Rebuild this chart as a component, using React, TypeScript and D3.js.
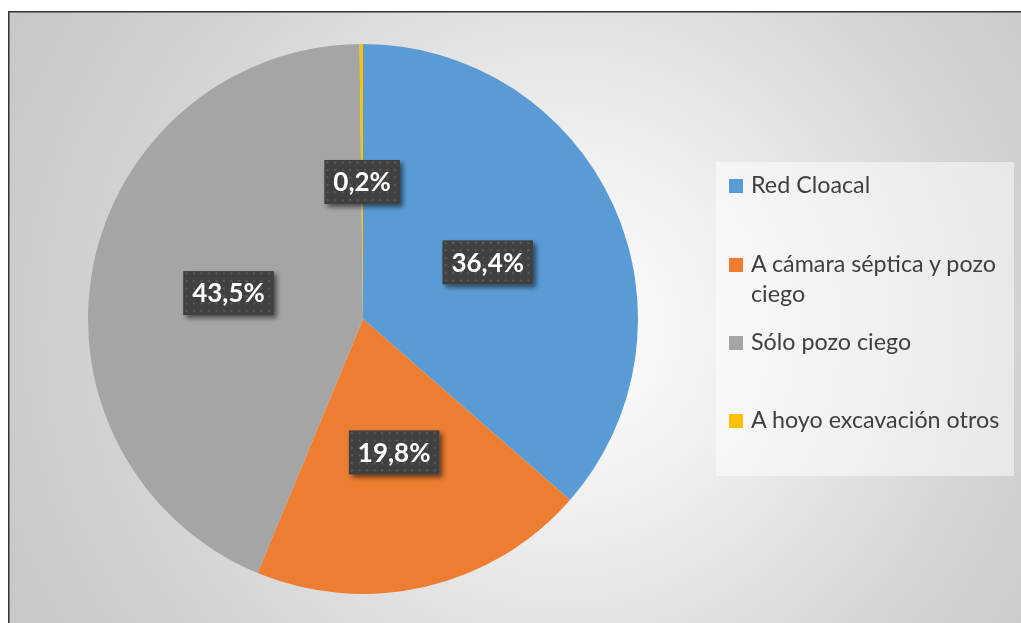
import React, { useEffect, useRef } from "react";
import * as d3 from "d3";

const categories = ["Red Cloacal", "A cámara séptica y pozo ciego", "Sólo pozo ciego", "A hoyo excavación otros"];
const values = [36.4, 19.8, 43.5, 0.2];
const valueLabels = ["36,4%", "19,8%", "43,5%", "0,2%"];
const colors = ["#5B9BD5", "#ED7D31", "#A5A5A5", "#FFC000"];
const legendLines = [["Red Cloacal"], ["A cámara séptica y pozo", "ciego"], ["Sólo pozo ciego"], ["A hoyo excavación otros"]];

const W = 1013;
const H = 615;

export default function App() {
  const ref = useRef<SVGSVGElement | null>(null);

  useEffect(() => {
    const svg = d3.select(ref.current);
    svg.selectAll("*").remove();
    const defs = svg.append("defs");

    const grad = defs.append("radialGradient").attr("id", "bg").attr("gradientUnits", "userSpaceOnUse")
      .attr("cx", 555).attr("cy", 320).attr("r", 650);
    [[0, "#ffffff"], [0.3, "#eeeeee"], [0.7, "#d2d2d2"], [1, "#c6c6c6"]].forEach(([o, c]) =>
      grad.append("stop").attr("offset", o as number).attr("stop-color", c as string));

    const pat = defs.append("pattern").attr("id", "dots").attr("patternUnits", "userSpaceOnUse")
      .attr("width", 7.5).attr("height", 7.5);
    pat.append("rect").attr("width", 7.5).attr("height", 7.5).attr("fill", "#404040");
    pat.append("rect").attr("x", 2).attr("y", 2).attr("width", 2).attr("height", 2).attr("fill", "#5c5c5c");

    const filt = defs.append("filter").attr("id", "shadow").attr("x", "-30%").attr("y", "-30%").attr("width", "160%").attr("height", "160%");
    filt.append("feDropShadow").attr("dx", 3).attr("dy", 3).attr("stdDeviation", 2.5)
      .attr("flood-color", "#000").attr("flood-opacity", 0.55);

    svg.append("rect").attr("x", 0.75).attr("y", 3.75).attr("width", W + 10).attr("height", H + 10)
      .attr("fill", "url(#bg)").attr("stroke", "#333").attr("stroke-width", 1.5);

    const cx = 355, cy = 311, r = 275;
    const pie = d3.pie<number>().sort(null).value((d) => d)(values);
    const arc = d3.arc<d3.PieArcDatum<number>>().innerRadius(0).outerRadius(r);
    const g = svg.append("g").attr("transform", `translate(${cx},${cy})`);
    g.selectAll("path.slice").data(pie).enter().append("path").attr("class", "slice")
      .attr("d", arc as any).attr("fill", (_d, i) => colors[i]);

    const labelArc = d3.arc<d3.PieArcDatum<number>>().innerRadius(137).outerRadius(137);
    pie.forEach((d, i) => {
      const [lx, ly] = labelArc.centroid(d);
      const lg = g.append("g").attr("transform", `translate(${lx},${ly})`);
      const rectSel = lg.append("rect").attr("fill", "url(#dots)").attr("filter", "url(#shadow)");
      const t = lg.append("text").attr("text-anchor", "middle").attr("dy", "0.36em")
        .attr("font-family", "Lato, 'Noto Sans', sans-serif").attr("font-weight", "bold")
        .attr("font-size", 26).attr("fill", "#ffffff").text(valueLabels[i]);
      const bb = (t.node() as SVGTextElement).getBBox();
      const w = bb.width + 18, h = 44;
      rectSel.attr("x", -w / 2).attr("y", -h / 2).attr("width", w).attr("height", h);
    });

    const lg = svg.append("g");
    lg.append("rect").attr("x", 708).attr("y", 154).attr("width", 298).attr("height", 314)
      .attr("fill", "#ffffff").attr("fill-opacity", 0.5);
    const baselines = [185, 264, 342, 420];
    categories.forEach((_c, i) => {
      const by = baselines[i];
      lg.append("rect").attr("x", 721).attr("y", by - 14).attr("width", 14).attr("height", 14).attr("fill", colors[i]);
      legendLines[i].forEach((line, j) => {
        lg.append("text").attr("x", 743).attr("y", by + j * 30)
          .attr("font-family", "Lato, 'Noto Sans', sans-serif").attr("font-size", 23.3)
          .attr("fill", "#404040").text(line);
      });
    });
  }, []);

  return <svg ref={ref} width={W} height={H} style={{ display: "block", position: "fixed", left: 8, top: 8 }} />;
}
